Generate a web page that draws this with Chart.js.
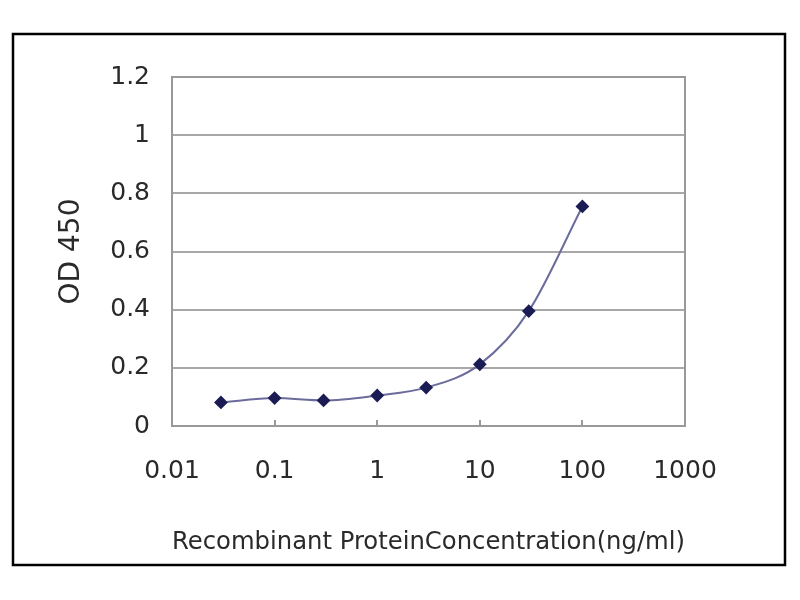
<!DOCTYPE html>
<html>
<head>
<meta charset="utf-8">
<script src="https://cdn.jsdelivr.net/npm/chart.js@4/dist/chart.umd.min.js"></script>
<style>
  html, body { margin: 0; padding: 0; background: #fff; }
  #wrap { width: 800px; height: 600px; position: relative; }
</style>
</head>
<body>
<div id="wrap"><canvas id="chartCanvas" width="800" height="600"></canvas></div>
<script>
// concentrations (ng/ml) and OD readings
const concentrations = [0.03, 0.1, 0.3, 1, 3, 10, 30, 100];
const odValues = [0.081, 0.096, 0.088, 0.105, 0.132, 0.212, 0.395, 0.755];
const xTicks = [0.01, 0.1, 1, 10, 100, 1000];
const yTicks = [0, 0.2, 0.4, 0.6, 0.8, 1, 1.2];

const points = concentrations.map((c, i) => ({ x: c, y: odValues[i] }));

// outer black frame + plot box + small inside tick marks on the x axis
const framePlugin = {
    id: 'frame',
    beforeDraw(chart) {
        const ctx = chart.ctx;
        ctx.save();
        ctx.fillStyle = '#fff';
        ctx.fillRect(0, 0, chart.width, chart.height);
        ctx.strokeStyle = '#000';
        ctx.lineWidth = 2.5;
        ctx.strokeRect(13, 34, 772, 531);
        ctx.restore();
    },
    beforeDatasetsDraw(chart) {
        const ctx = chart.ctx;
        const a = chart.chartArea;
        const xs = chart.scales.x;
        ctx.save();
        ctx.strokeStyle = '#999';
        ctx.lineWidth = 2;
        ctx.strokeRect(a.left, a.top, a.right - a.left, a.bottom - a.top);
        xTicks.slice(1, -1).forEach(v => {
            const px = Math.round(xs.getPixelForValue(v));
            ctx.beginPath();
            ctx.moveTo(px, a.bottom);
            ctx.lineTo(px, a.bottom - 6);
            ctx.stroke();
        });
        ctx.restore();
    }
};

const textFont = 'DejaVu Sans';

new Chart(document.getElementById('chartCanvas').getContext('2d'), {
    type: 'line',
    data: {
        datasets: [{
            data: points,
            borderColor: '#6b6b9c',
            borderWidth: 2,
            backgroundColor: '#1c1c55',
            pointBackgroundColor: '#1c1c55',
            pointBorderColor: '#1c1c55',
            pointStyle: 'rectRot',
            pointRadius: 5.5,
            cubicInterpolationMode: 'monotone',
            fill: false
        }]
    },
    options: {
        responsive: false,
        animation: false,
        layout: { padding: { left: 55, top: 77, right: 115, bottom: 43 } },
        plugins: {
            legend: { display: false },
            tooltip: { enabled: false }
        },
        scales: {
            x: {
                type: 'logarithmic',
                min: 0.01,
                max: 1000,
                afterBuildTicks: s => { s.ticks = xTicks.map(v => ({ value: v })); },
                afterFit: s => { s.height = 131; },
                grid: { display: false, drawTicks: false },
                border: { display: false },
                ticks: {
                    padding: 30,
                    color: '#2a2a2a',
                    font: { family: textFont, size: 25 },
                    callback: v => String(v),
                    autoSkip: false,
                    maxRotation: 0
                },
                title: {
                    display: true,
                    text: 'Recombinant ProteinConcentration(ng/ml)',
                    color: '#2a2a2a',
                    padding: 0,
                    font: { family: textFont, size: 25 }
                }
            },
            y: {
                min: 0,
                max: 1.2,
                afterBuildTicks: s => { s.ticks = yTicks.map(v => ({ value: v })); },
                afterFit: s => { s.width = 117; },
                grid: { color: '#a8a8a8', lineWidth: 2, drawTicks: false },
                border: { display: false },
                ticks: {
                    padding: 22,
                    color: '#2a2a2a',
                    font: { family: textFont, size: 25 },
                    callback: v => String(v)
                },
                title: {
                    display: true,
                    text: 'OD 450',
                    color: '#2a2a2a',
                    padding: 0,
                    font: { family: textFont, size: 28 }
                }
            }
        }
    },
    plugins: [framePlugin]
});
</script>
</body>
</html>
